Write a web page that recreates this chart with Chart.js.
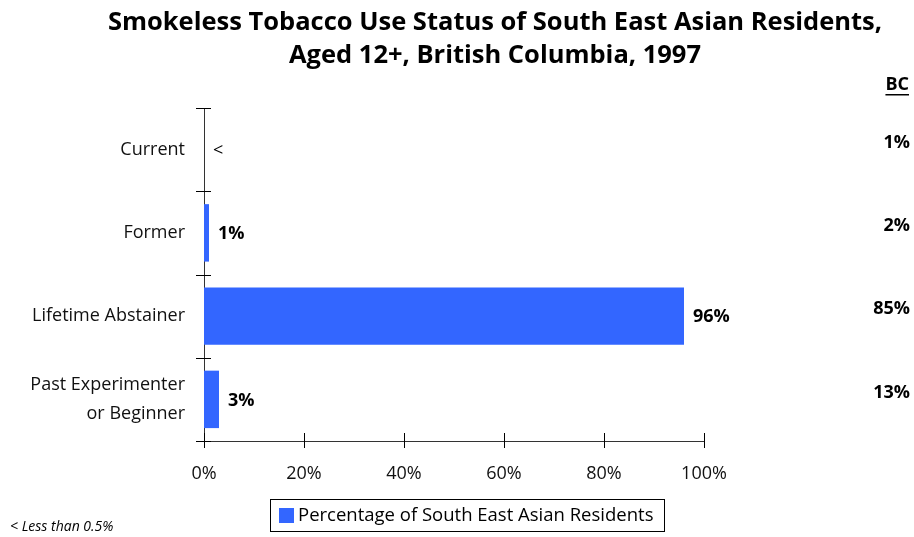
<!DOCTYPE html>
<html>
<head>
<meta charset="utf-8">
<script src="https://cdn.jsdelivr.net/npm/chart.js@4.4.0/dist/chart.umd.min.js"></script>
<style>
  html, body { margin: 0; padding: 0; background: #fff; }
  #wrap { width: 914px; height: 537px; position: relative; }
</style>
</head>
<body>
<div id="wrap"><canvas id="myChart" width="914" height="537"></canvas></div>
<script>
const categories = ['Current', 'Former', 'Lifetime Abstainer', ['Past Experimenter', 'or Beginner']];
const seaValues = [0, 1, 96, 3];
const seaLabels = ['<', '1%', '96%', '3%'];
const bcLabels = ['1%', '2%', '85%', '13%'];
const tickValues = [0, 20, 40, 60, 80, 100];
const seriesName = 'Percentage of South East Asian Residents';
const titleLines = ['Smokeless Tobacco Use Status of South East Asian Residents,', 'Aged 12+, British Columbia, 1997'];
const footnote = '< Less than 0.5%';

const barColor = '#3366ff';
const labelFont = '"Open Sans", sans-serif';

// title, BC column, value labels, cross ticks, legend box and footnote
const extras = {
    id: 'extras',
    afterDraw(chart) {
        const c = chart.ctx;
        const x = chart.scales.x;
        const y = chart.scales.y;
        c.save();

        // title
        c.fillStyle = '#000';
        c.font = 'bold 25.5px ' + labelFont;
        c.textAlign = 'center';
        c.textBaseline = 'middle';
        c.fillText(titleLines[0], 495, 23);
        c.fillText(titleLines[1], 495, 56);

        // axis ticks crossing both sides
        c.strokeStyle = '#000';
        c.lineWidth = 1;
        c.beginPath();
        tickValues.forEach(v => {
            const px = Math.round(x.getPixelForValue(v)) + 0.5;
            c.moveTo(px, y.bottom - 8);
            c.lineTo(px, y.bottom + 7);
        });
        const step = (y.bottom - y.top) / categories.length;
        for (let i = 0; i <= categories.length; i++) {
            const py = Math.round(y.top + i * step) + 0.5;
            c.moveTo(x.left - 8, py);
            c.lineTo(x.left + 7, py);
        }
        c.stroke();

        // value labels at bar ends
        const meta = chart.getDatasetMeta(0);
        c.textAlign = 'left';
        meta.data.forEach((bar, i) => {
            c.font = (seaLabels[i] === '<' ? '' : 'bold ') + '18px ' + labelFont;
            c.fillText(seaLabels[i], bar.x + 9, bar.y + 1);
        });

        // BC column
        c.textAlign = 'right';
        c.font = 'bold 18px ' + labelFont;
        c.fillText('BC', 909, 85);
        const w = c.measureText('BC').width;
        c.fillRect(909 - w, 94, w, 1.5);
        bcLabels.forEach((t, i) => {
            c.fillText(t, 910, y.getPixelForValue(i) - 7);
        });

        // legend
        c.strokeStyle = '#000';
        c.strokeRect(270.5, 499.5, 394, 32);
        c.fillStyle = barColor;
        c.fillRect(279, 508, 15, 15);
        c.fillStyle = '#000';
        c.textAlign = 'left';
        c.font = '18.5px ' + labelFont;
        c.fillText(seriesName, 298, 516);

        // footnote
        c.font = 'italic 14px ' + labelFont;
        c.fillText(footnote, 10, 527);
        c.restore();
    }
};

const ctx = document.getElementById('myChart');
new Chart(ctx, {
    type: 'bar',
    data: {
        labels: categories,
        datasets: [{
            label: seriesName,
            data: seaValues,
            backgroundColor: barColor,
            borderWidth: 0,
            categoryPercentage: 0.69,
            barPercentage: 1
        }]
    },
    options: {
        indexAxis: 'y',
        responsive: false,
        animation: false,
        events: [],
        layout: { padding: { top: 108, right: 210, left: 0, bottom: 0 } },
        plugins: {
            legend: { display: false },
            title: { display: false },
            tooltip: { enabled: false }
        },
        scales: {
            x: {
                min: 0,
                max: 100,
                afterFit: s => { s.height = 96; },
                afterBuildTicks: s => { s.ticks = tickValues.map(v => ({ value: v })); },
                grid: { display: false, drawTicks: false },
                border: { display: true, color: '#333', width: 1 },
                ticks: {
                    padding: 22,
                    color: '#111',
                    font: { family: labelFont, size: 18 },
                    callback: v => v + '%'
                }
            },
            y: {
                afterFit: s => { s.width = 204; },
                grid: { display: false, drawTicks: false },
                border: { display: true, color: '#333', width: 1 },
                ticks: {
                    padding: 19,
                    color: '#111',
                    font: { family: labelFont, size: 18, lineHeight: 1.6 }
                }
            }
        }
    },
    plugins: [extras]
});
</script>
</body>
</html>
